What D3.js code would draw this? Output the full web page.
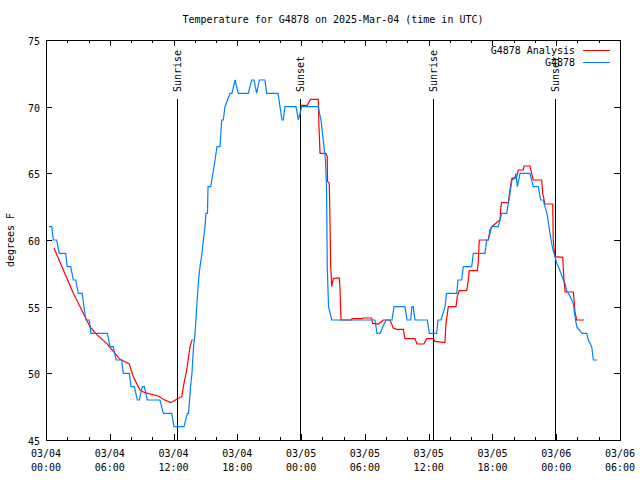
<!DOCTYPE html>
<html><head><meta charset="utf-8">
<script src="https://cdn.jsdelivr.net/npm/d3@7"></script>
<style>
body{margin:0;background:#fff;}
text{font-family:"DejaVu Sans Mono","Liberation Mono",monospace;font-size:10px;fill:#000;}
</style></head>
<body>
<svg id="c" width="640" height="480"></svg>
<script>
const title = "Temperature for G4878 on 2025-Mar-04 (time in UTC)";
const yLabel = "degrees F";
const startTime = Date.UTC(2025, 2, 4, 0, 0);
const endTime = Date.UTC(2025, 2, 6, 6, 0);
const yTicks = [45, 50, 55, 60, 65, 70, 75];

// hours since 2025-03-04 00:00 UTC
const obsHours = [0.28,0.54,0.69,1.0,1.25,1.85,2.0,2.32,2.57,2.79,3.04,3.41,3.57,3.76,4.07,4.23,5.77,6.02,6.33,6.59,7.12,7.27,7.84,8.0,8.31,8.59,8.78,9.06,9.25,9.53,10.72,11.04,11.83,12.04,12.98,13.3,13.41,13.6,13.73,13.88,14.02,14.18,14.35,14.49,14.68,14.8,14.96,15.05,15.19,15.24,15.49,15.71,15.9,16.09,16.37,16.53,16.68,16.84,17.31,17.5,17.78,18.09,19.03,19.35,19.57,19.82,20.07,20.6,20.76,21.83,22.01,22.2,22.32,22.48,22.64,23.52,23.74,24.06,25.62,25.73,25.87,26.01,26.15,26.29,26.39,26.46,26.58,26.88,30.95,31.14,31.42,31.98,32.55,32.74,33.77,33.96,34.31,34.43,34.55,34.71,35.87,36.06,36.75,36.88,37.16,37.54,37.68,38.64,38.76,39.11,39.26,40.05,40.2,41.3,41.46,41.61,41.93,42.55,42.87,43.34,43.65,43.84,44.12,44.22,44.34,44.5,44.59,45.53,45.84,46.31,46.54,46.79,46.94,47.13,47.32,47.51,47.7,47.88,48.04,48.35,48.67,48.83,48.98,49.29,49.61,49.77,49.93,50.42,50.87,51.02,51.34,51.49,51.86];
const obsTemps = [61,61,60,60,59,59,58,58,57,57,56,56,55,54,54,53,53,52,52,51,51,50,50,49,49,48,48,49,49,48,48,47,47,46,46,47,47,49,50,52,53,55,57,58,59,60,61,62,62,64,64,65,66,67,67,69,69,70,71,71,72,71,71,72,72,71,72,72,71,71,70,69,69,70,70,70,69,70,70,69.5,69,68,67,66,64,58,55,54,54,53,53,54,54,55,55,54,54,55,55,54,54,53,53,54,54,55,56,56,57,57,58,58,59,59,60,60,61,61,62,62,63.5,64.5,64.6,65,64,64.6,65,65,64,64,63,63,62.5,62,61,60,59.25,58.75,58.3,57.7,57,56.75,56.2,55.8,55.25,54.25,53.5,53,53,52.5,52,51,51];

const anaHours = [0.75,1.63,2.57,3.51,4.14,4.77,5.71,6.49,6.96,7.84,8.21,8.84,9.31,10.56,11.04,11.73,12.3,12.77,12.98,13.24,13.55,13.76,18.0,23.94,24.58,24.77,24.9,25.62,25.68,25.78,26.34,26.46,26.48,26.65,26.72,26.78,26.88,27.03,27.59,27.66,27.75,28.76,28.78,29.73,29.79,30.64,30.73,31.26,31.73,32.36,32.67,32.99,33.61,33.77,34.71,34.9,35.56,35.81,36.43,36.59,37.53,37.63,37.85,38.57,38.69,38.88,39.58,39.73,39.82,40.58,40.67,40.76,41.61,41.77,41.93,42.71,42.78,42.87,43.49,43.65,43.81,44.28,44.43,44.9,44.97,45.53,45.69,45.84,46.63,46.73,46.94,47.67,47.72,47.88,48.61,48.73,48.83,49.61,49.77,49.93,50.61];
const anaTemps = [59.4,57.75,56,54.5,53.5,52.9,52.25,51.5,51.05,50.7,49.75,48.75,48.55,48.3,48.05,47.8,48.05,48.25,49.25,50.25,52,52.55,null,70.1,70.1,70.4,70.55,70.55,68.5,66.5,66.5,66.25,64.4,64.25,61.25,58.1,56.5,57.1,57.15,56.4,54,54,54.1,54.1,54.15,54.15,53.75,53.7,54,54,53.4,53.3,53.3,52.6,52.6,52.2,52.2,52.6,52.6,52.4,52.3,53.75,55,55,55.75,56.2,56.2,57,57.7,57.7,58.4,60,60,60.75,61,61.5,62.4,62.8,62.8,63.75,64.6,64.75,65.25,65.25,65.55,65.55,65,64.5,64.5,63.5,62.7,62.7,60,58.75,58.7,57,56.1,56.1,54.6,54,54];

const sunLabels = ["Sunrise","Sunset","Sunrise","Sunset"];
const sunHours = [12.32, 23.9, 36.41, 47.88];
const seriesNames = ["G4878 Analysis", "G4878"];
const seriesColors = ["#ff0000", "#0080ff"];

const toDate = h => new Date(startTime + h * 3600000);
const svg = d3.select("#c");
const L = 46, R = 620, T = 40, B = 440;
const x = d3.scaleUtc().domain([new Date(startTime), new Date(endTime)]).range([L, R]);
const y = d3.scaleLinear().domain([45, 75]).range([B, T]);

// title
svg.append("text").attr("x", 333).attr("y", 23).attr("text-anchor", "middle").text(title);
// y label
svg.append("text").attr("transform", "translate(14,240) rotate(-90)").attr("text-anchor", "middle").text(yLabel);

const major = d3.utcHour.every(6).range(new Date(startTime), new Date(endTime + 1));
const minor = d3.utcHour.every(2).range(new Date(startTime), new Date(endTime + 1));
const g = svg.append("g").attr("shape-rendering", "crispEdges").attr("stroke", "#000");
minor.forEach(d => {
  const px = Math.round(x(d)) + 0.5;
  const isMajor = d.getUTCHours() % 6 === 0;
  const len = isMajor ? 6 : 3;
  g.append("line").attr("x1", px).attr("x2", px).attr("y1", B).attr("y2", B - len);
  g.append("line").attr("x1", px).attr("x2", px).attr("y1", T).attr("y2", T + len);
});
yTicks.forEach(v => {
  const py = Math.round(y(v)) + 0.5;
  g.append("line").attr("x1", L).attr("x2", L + 6).attr("y1", py).attr("y2", py);
  g.append("line").attr("x1", R).attr("x2", R - 6).attr("y1", py).attr("y2", py);
  svg.append("text").attr("x", 40).attr("y", py + 4).attr("text-anchor", "end").text(v);
});
const fmtD = d3.utcFormat("%m/%d"), fmtT = d3.utcFormat("%H:%M");
major.forEach(d => {
  const px = x(d);
  svg.append("text").attr("x", px).attr("y", 457).attr("text-anchor", "middle").text(fmtD(d));
  svg.append("text").attr("x", px).attr("y", 471).attr("text-anchor", "middle").text(fmtT(d));
});

// sun events
sunHours.forEach((h, i) => {
  const px = Math.round(x(toDate(h))) + 0.5;
  g.append("line").attr("x1", px).attr("x2", px).attr("y1", 99).attr("y2", B);
  svg.append("text").attr("transform", `translate(${px + 3},92) rotate(-90)`).attr("text-anchor", "start").text(sunLabels[i]);
});

// series
const line = d3.line().defined(d => d[1] !== null).x(d => x(toDate(d[0]))).y(d => y(d[1]));
const ana = anaHours.map((h, i) => [h, anaTemps[i]]);
const obs = obsHours.map((h, i) => [h, obsTemps[i]]);
svg.append("path").attr("d", line(ana)).attr("fill", "none").attr("stroke", seriesColors[0]).attr("stroke-width", 1.2);
svg.append("path").attr("d", line(obs)).attr("fill", "none").attr("stroke", seriesColors[1]).attr("stroke-width", 1.2);

// legend
seriesNames.forEach((n, i) => {
  const ly = 50 + i * 12;
  svg.append("text").attr("x", 575).attr("y", ly + 4).attr("text-anchor", "end").text(n);
  svg.append("line").attr("x1", 583).attr("x2", 610).attr("y1", ly + 0.5).attr("y2", ly + 0.5)
    .attr("stroke", seriesColors[i]).attr("stroke-width", 1.2).attr("shape-rendering", "crispEdges");
});

// frame
g.append("rect").attr("x", L + 0.5).attr("y", T + 0.5).attr("width", R - L).attr("height", B - T).attr("fill", "none");
</script>
</body></html>
